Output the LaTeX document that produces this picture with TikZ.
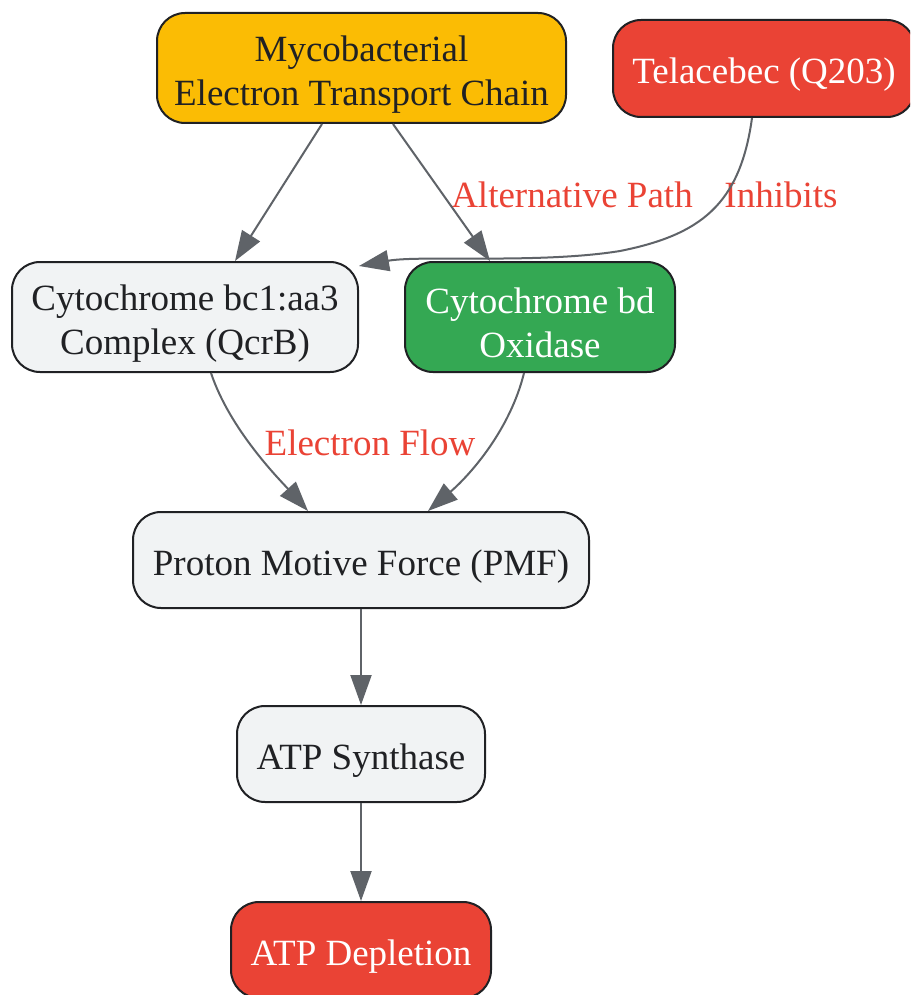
\documentclass[tikz,border=0pt]{standalone}
\usepackage{fontspec}
\setmainfont{Liberation Serif}
\usetikzlibrary{arrows.meta}
\definecolor{amber}{HTML}{FBBC04}
\definecolor{alertred}{HTML}{EA4335}
\definecolor{leafgreen}{HTML}{34A853}
\definecolor{paper}{HTML}{F1F3F4}
\definecolor{ink}{HTML}{202124}
\definecolor{wire}{HTML}{5F6368}
\newcommand\lead{\rule{0pt}{38pt}}
\tikzstyle{block}=[draw=ink,line width=2pt,rounded corners=28pt,align=center,text=ink,font=\fontsize{37}{44}\selectfont,inner sep=0pt]
\tikzstyle{lbl}=[text=alertred,font=\fontsize{37}{44}\selectfont,inner sep=0pt]
\tikzstyle{edge}=[draw=wire,line width=2pt,-{Triangle[length=30pt,width=21pt]}]

\begin{document}
\begin{tikzpicture}[x=1pt,y=-1pt]
      \clip (0,0) rectangle (910,995);
      \fill[white] (0,0) rectangle (910,995);
      \node[block,fill=amber,minimum width=409pt,minimum height=110pt] (etc) at (361.5,68) {\lead Mycobacterial\\Electron Transport Chain};
      \node[block,fill=alertred,text=white,minimum width=302pt,minimum height=97pt] (tel) at (764,68.5) {\lead Telacebec (Q203)};
      \node[block,fill=paper,minimum width=346pt,minimum height=110pt] (bc1) at (185,317) {\lead Cytochrome bc1:aa3\\Complex (QcrB)};
      \node[block,fill=leafgreen,text=white,minimum width=270pt,minimum height=110pt] (bd) at (540,317) {\lead Cytochrome bd\\Oxidase};
      \node[block,fill=paper,minimum width=456pt,minimum height=96pt] (pmf) at (361,560) {\lead Proton Motive Force (PMF)};
      \node[block,fill=paper,minimum width=248pt,minimum height=96pt] (syn) at (361,754) {\lead ATP Synthase};
      \node[block,fill=alertred,text=white,minimum width=260pt,minimum height=96pt] (dep) at (361,950) {\lead ATP Depletion};
      \node[lbl] (altlbl) at (572,195) {Alternative Path};
      \node[lbl] (inhlbl) at (781,195) {Inhibits};
      \node[lbl] (flowlbl) at (370,443) {Electron Flow};
      \draw[edge] ([xshift=-39.5pt]etc.south) -- ([xshift=50pt]bc1.north);
      \draw[edge] ([xshift=31.5pt]etc.south) -- ([xshift=-50pt]bd.north);
      \draw[edge] ([xshift=-12pt]tel.south) .. controls (740,205) and (700,235) .. (620,251)
            .. controls (540,264) and (420,255) .. ([yshift=-5pt]bc1.north east);
      \draw[edge] ([xshift=26pt]bc1.south) .. controls (230,430) and (280,480) .. ([xshift=-53pt]pmf.north);
      \draw[edge] ([xshift=-16pt]bd.south) .. controls (510,430) and (470,475) .. ([xshift=67pt]pmf.north);
      \draw[edge] (pmf) -- (syn);
      \draw[edge] (syn) -- (dep);
    \end{tikzpicture}
\end{document}
